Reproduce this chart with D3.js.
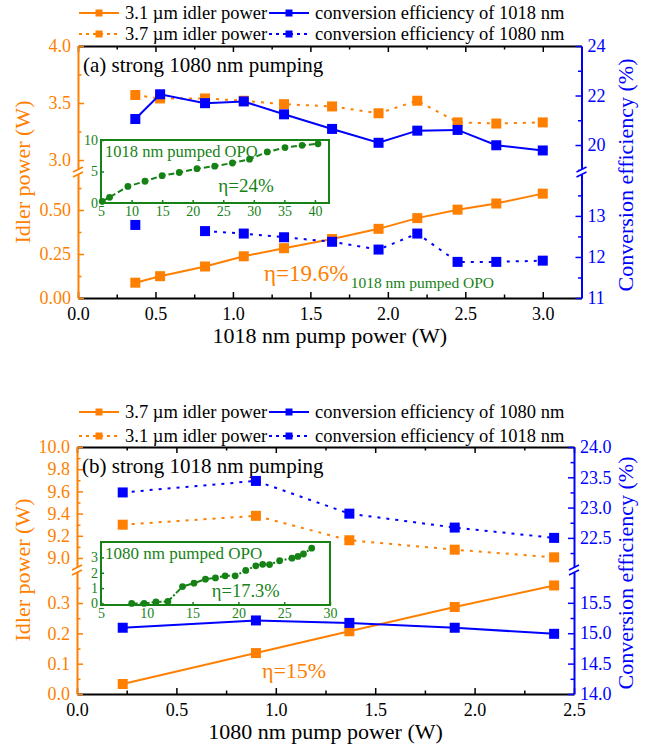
<!DOCTYPE html>
<html>
<head>
<meta charset="utf-8">
<script src="https://cdn.jsdelivr.net/npm/d3@7"></script>
</head>
<body style="margin:0">
<svg id="chart" width="653" height="749"></svg>
<script>
var ORANGE = "#ff7f00", BLUE = "#0000ff", GREEN = "#168216";

// panel (a): strong 1080 nm pumping, x = 1018 nm pump power (W)
var pumpA = [0.37, 0.53, 0.82, 1.07, 1.33, 1.64, 1.94, 2.19, 2.45, 2.70, 3.00];
var idler31A = [0.087, 0.124, 0.179, 0.237, 0.283, 0.335, 0.393, 0.454, 0.502, 0.537, 0.593];
var idler37A = [3.57, 3.54, 3.54, 3.52, 3.49, 3.47, 3.41, 3.52, 3.33, 3.32, 3.33];
var eff1018A = [21.05, 22.05, 21.69, 21.76, 21.24, 20.65, 20.09, 20.58, 20.61, 19.99, 19.78];
var eff1080A = [12.78, null, 12.63, 12.57, 12.48, 12.37, 12.18, 12.57, 11.88, 11.88, 11.91];

// inset (a): 1018 nm pumped OPO
var insetPumpA = [5.2, 6.4, 9.4, 12.2, 15.0, 17.8, 20.7, 23.6, 26.5, 29.3, 32.2, 35.1, 37.9, 40.5];
var insetIdlerA = [0.26, 0.9, 2.63, 3.45, 4.34, 4.84, 5.45, 5.85, 6.35, 6.95, 8.1, 8.8, 9.15, 9.4];

// panel (b): strong 1018 nm pumping, x = 1080 nm pump power (W)
var pumpB = [0.23, 0.90, 1.37, 1.90, 2.40];
var idler37B = [0.033, 0.135, 0.207, 0.287, 0.358];
var idler31B = [9.30, 9.38, 9.16, 9.075, 9.006];
var eff1080B = [15.09, 15.21, 15.17, 15.09, 14.99];
var eff1018B = [23.25, 23.44, 22.90, 22.67, 22.50];

// inset (b): 1080 nm pumped OPO
var insetPumpB = [8.35, 9.7, 11.0, 12.3, 13.9, 15.15, 16.4, 17.5, 18.55, 19.65, 20.8, 21.9, 22.65, 23.4, 24.5, 25.85, 26.5, 27.1, 28.0];
var insetIdlerB = [0, 0, 0.1, 0.13, 1.1, 1.32, 1.58, 1.66, 1.8, 1.8, 2.15, 2.45, 2.55, 2.53, 2.78, 2.95, 3.06, 3.22, 3.6];

// tick labels
var xTicksA = [0, 0.5, 1, 1.5, 2, 2.5, 3], xMinorA = [0.25, 0.75, 1.25, 1.75, 2.25, 2.75];
var leftLowTicksA = [0, 0.25, 0.5], leftLowMinorA = [0.125, 0.375, 0.625];
var leftHighTicksA = [3.0, 3.5, 4.0], leftHighMinorA = [3.25, 3.75];
var rightLowTicksA = [11, 12, 13], rightLowMinorA = [11.5, 12.5, 13.5];
var rightHighTicksA = [20, 22, 24], rightHighMinorA = [19, 21, 23];
var insetXTicksA = [5, 10, 15, 20, 25, 30, 35, 40], insetYTicksA = [0, 5, 10];

var xTicksB = [0, 0.5, 1, 1.5, 2, 2.5], xMinorB = [0.25, 0.75, 1.25, 1.75, 2.25];
var leftLowTicksB = [0, 0.1, 0.2, 0.3], leftLowMinorB = [0.05, 0.15, 0.25, 0.35];
var leftHighTicksB = [9.0, 9.2, 9.4, 9.6, 9.8, 10.0], leftHighMinorB = [9.1, 9.3, 9.5, 9.7, 9.9];
var rightLowTicksB = [14.0, 14.5, 15.0, 15.5], rightLowMinorB = [14.25, 14.75, 15.25, 15.75];
var rightHighTicksB = [22.5, 23.0, 23.5, 24.0], rightHighMinorB = [22.25, 22.75, 23.25, 23.75];
var insetXTicksB = [5, 10, 15, 20, 25, 30], insetYTicksB = [0, 1, 2, 3];

var FONT = "Liberation Serif";
var svg = d3.select("#chart");

function styleAxis(sel, color, size) {
	sel.attr("font-family", FONT).attr("font-size", size || 18);
	sel.select(".domain").attr("stroke", color).attr("stroke-width", 2);
	sel.selectAll(".tick line").attr("stroke", color).attr("stroke-width", 1.5);
	sel.selectAll(".tick text").attr("fill", color);
}

// one y segment (major + minor ticks) of a broken axis
function yAxisSegment(g, side, x, scale, ticks, minor, fmt, color) {
	var make = side == "left" ? d3.axisLeft : d3.axisRight;
	g.append("g").attr("transform", "translate(" + x + ",0)")
		.call(make(scale).tickValues(ticks).tickSize(-6).tickSizeOuter(0)
			.tickPadding(side == "left" ? 7 : 6).tickFormat(d3.format(fmt)))
		.call(styleAxis, color);
	g.append("g").attr("transform", "translate(" + x + ",0)")
		.call(make(scale).tickValues(minor).tickSize(-3.5).tickSizeOuter(0).tickFormat(""))
		.call(styleAxis, color)
		.select(".domain").remove();
}

function breakMark(g, x, y, color) {
	g.append("rect").attr("x", x - 3).attr("y", y - 2.5).attr("width", 6).attr("height", 5).attr("fill", "#fff");
	[-2.5, 2.5].forEach(function(k) {
		g.append("line")
			.attr("x1", x - 5).attr("y1", y + k + 2.5)
			.attr("x2", x + 5).attr("y2", y + k - 2.5)
			.attr("stroke", color).attr("stroke-width", 1.6);
	});
}

function drawSeries(g, xs, ys, xScale, yScale, color, dotted) {
	var pts = xs.map(function(x, i) { return {x: x, y: ys[i]}; });
	var line = d3.line()
		.defined(function(d) { return d.y != null; })
		.x(function(d) { return xScale(d.x); })
		.y(function(d) { return yScale(d.y); });
	g.append("path").datum(pts)
		.attr("d", line)
		.attr("fill", "none")
		.attr("stroke", color)
		.attr("stroke-width", 2)
		.attr("stroke-dasharray", dotted ? "3,6" : null);
	g.selectAll(null)
		.data(pts.filter(function(d) { return d.y != null; }))
		.enter().append("rect")
		.attr("x", function(d) { return xScale(d.x) - 5; })
		.attr("y", function(d) { return yScale(d.y) - 5; })
		.attr("width", 10).attr("height", 10)
		.attr("fill", color);
}

function drawLegend(g, rows, items) {
	var colX = [79, 269];
	items.forEach(function(it) {
		var x0 = colX[it.col], y = rows[it.row];
		g.append("line")
			.attr("x1", x0).attr("x2", x0 + 40).attr("y1", y).attr("y2", y)
			.attr("stroke", it.color).attr("stroke-width", 2)
			.attr("stroke-dasharray", it.dotted ? "3,4" : null);
		g.append("rect").attr("x", x0 + 16.5).attr("y", y - 3.5).attr("width", 7).attr("height", 7)
			.attr("fill", it.color);
		g.append("text").attr("x", x0 + 46).attr("y", y).attr("dy", "0.32em")
			.attr("font-size", 18.5).attr("fill", "#000").text(it.label);
	});
}

function drawInset(g, p) {
	var x = p.x, y = p.y;
	g.append("rect")
		.attr("x", x.range()[0]).attr("y", y.range()[1])
		.attr("width", x.range()[1] - x.range()[0]).attr("height", y.range()[0] - y.range()[1])
		.attr("fill", "#fff").attr("stroke", GREEN).attr("stroke-width", 2);
	g.append("g").attr("transform", "translate(0," + y.range()[0] + ")")
		.call(d3.axisBottom(x).tickValues(p.xTicks).tickSize(-3).tickSizeOuter(0).tickPadding(3).tickFormat(d3.format("d")))
		.call(styleAxis, GREEN, 14)
		.select(".domain").remove();
	g.append("g").attr("transform", "translate(" + x.range()[0] + ",0)")
		.call(d3.axisLeft(y).tickValues(p.yTicks).tickSize(-3).tickSizeOuter(0).tickPadding(3).tickFormat(d3.format("d")))
		.call(styleAxis, GREEN, 14)
		.select(".domain").remove();
	var pts = p.xs.map(function(v, i) { return [v, p.ys[i]]; });
	g.append("path").datum(pts)
		.attr("d", d3.line().x(function(d) { return x(d[0]); }).y(function(d) { return y(d[1]); }))
		.attr("fill", "none").attr("stroke", GREEN).attr("stroke-width", 2)
		.attr("stroke-dasharray", p.dash);
	g.selectAll(null).data(pts).enter().append("circle")
		.attr("cx", function(d) { return x(d[0]); })
		.attr("cy", function(d) { return y(d[1]); })
		.attr("r", 3.4).attr("fill", GREEN);
	g.append("text").attr("x", x.range()[0] + 4).attr("y", y.range()[1] + 17)
		.attr("font-size", p.titleSize).attr("fill", GREEN).text(p.title);
	g.append("text").attr("x", x(p.etaAt[0])).attr("y", y(p.etaAt[1]))
		.attr("font-size", p.etaSize).attr("fill", GREEN).text(p.eta);
}

function drawPanel(p) {
	var g = svg.append("g");
	var x0 = p.x.range()[0], x1 = p.x.range()[1];

	drawLegend(g, p.legendRows, p.legend);

	// top frame line with inner ticks
	g.append("g").attr("transform", "translate(0," + p.top + ")")
		.call(d3.axisTop(p.x).tickValues(p.xTicks).tickSize(-6).tickSizeOuter(0).tickFormat(""))
		.call(styleAxis, "#000");
	g.append("g").attr("transform", "translate(0," + p.top + ")")
		.call(d3.axisTop(p.x).tickValues(p.xMinor).tickSize(-3.5).tickSizeOuter(0).tickFormat(""))
		.call(styleAxis, "#000").select(".domain").remove();

	// bottom axis
	g.append("g").attr("transform", "translate(0," + p.bottom + ")")
		.call(d3.axisBottom(p.x).tickValues(p.xTicks).tickSize(-6).tickSizeOuter(0)
			.tickPadding(9).tickFormat(d3.format(".1f")))
		.call(styleAxis, "#000");
	g.append("g").attr("transform", "translate(0," + p.bottom + ")")
		.call(d3.axisBottom(p.x).tickValues(p.xMinor).tickSize(-3.5).tickSizeOuter(0).tickFormat(""))
		.call(styleAxis, "#000").select(".domain").remove();

	// broken left and right axes
	yAxisSegment(g, "left", x0, p.leftLow, p.leftLowTicks, p.leftLowMinor, p.leftLowFmt, ORANGE);
	yAxisSegment(g, "left", x0, p.leftHigh, p.leftHighTicks, p.leftHighMinor, p.leftHighFmt, ORANGE);
	yAxisSegment(g, "right", x1, p.rightLow, p.rightLowTicks, p.rightLowMinor, p.rightFmt, BLUE);
	yAxisSegment(g, "right", x1, p.rightHigh, p.rightHighTicks, p.rightHighMinor, p.rightFmt, BLUE);
	breakMark(g, x0, p.brk, ORANGE);
	breakMark(g, x1, p.brk, BLUE);

	// axis titles
	g.append("text").attr("x", (x0 + x1) / 2).attr("y", p.bottom + 45)
		.attr("text-anchor", "middle").attr("font-size", 22).text(p.xTitle);
	g.append("text").attr("transform", "translate(30," + p.brk + ") rotate(-90)")
		.attr("text-anchor", "middle").attr("font-size", 22).attr("fill", ORANGE)
		.text("Idler power (W)");
	g.append("text").attr("transform", "translate(633," + (p.brk + 3) + ") rotate(-90)")
		.attr("text-anchor", "middle").attr("font-size", 22).attr("fill", BLUE)
		.text("Conversion efficiency (%)");

	// panel title
	g.append("text").attr("x", x0 + 5).attr("y", p.top + 26)
		.attr("font-size", 21).text(p.title);

	drawInset(g, p.inset);

	p.series.forEach(function(s) {
		drawSeries(g, p.xs, s.ys, p.x, s.scale, s.color, s.dotted);
	});

	p.notes.forEach(function(n) {
		g.append("text").attr("x", p.x(n.at[0])).attr("y", n.scale(n.at[1]))
			.attr("font-size", n.size).attr("fill", n.color).text(n.text);
	});
}

// ---- panel (a)
var leftLowA = d3.scaleLinear().domain([0, 0.716]).range([298, 172]);
var leftHighA = d3.scaleLinear().domain([2.895, 4.0]).range([172, 46]);
var rightLowA = d3.scaleLinear().domain([11, 14.07]).range([298, 172]);
var rightHighA = d3.scaleLinear().domain([18.91, 24]).range([172, 46]);

drawPanel({
	top: 46, bottom: 298, brk: 172,
	x: d3.scaleLinear().domain([0, 3.25]).range([78, 581.5]),
	xTicks: xTicksA, xMinor: xMinorA,
	leftLow: leftLowA, leftLowTicks: leftLowTicksA, leftLowMinor: leftLowMinorA, leftLowFmt: ".2f",
	leftHigh: leftHighA, leftHighTicks: leftHighTicksA, leftHighMinor: leftHighMinorA, leftHighFmt: ".1f",
	rightLow: rightLowA, rightLowTicks: rightLowTicksA, rightLowMinor: rightLowMinorA,
	rightHigh: rightHighA, rightHighTicks: rightHighTicksA, rightHighMinor: rightHighMinorA,
	rightFmt: "d",
	xTitle: "1018 nm pump power (W)",
	title: "(a) strong 1080 nm pumping",
	legendRows: [13, 34],
	legend: [
		{label: "3.1 \u00b5m idler power", color: ORANGE, dotted: false, col: 0, row: 0},
		{label: "conversion efficiency of 1018 nm", color: BLUE, dotted: false, col: 1, row: 0},
		{label: "3.7 \u00b5m idler power", color: ORANGE, dotted: true, col: 0, row: 1},
		{label: "conversion efficiency of 1080 nm", color: BLUE, dotted: true, col: 1, row: 1}
	],
	xs: pumpA,
	series: [
		{ys: idler37A, scale: leftHighA, color: ORANGE, dotted: true},
		{ys: idler31A, scale: leftLowA, color: ORANGE, dotted: false},
		{ys: eff1018A, scale: rightHighA, color: BLUE, dotted: false},
		{ys: eff1080A, scale: rightLowA, color: BLUE, dotted: true}
	],
	notes: [
		{text: "\u03b7=19.6%", at: [1.2, 0.097], scale: leftLowA, size: 23, color: ORANGE},
		{text: "1018 nm pumped OPO", at: [1.76, 0.057], scale: leftLowA, size: 15.5, color: GREEN}
	],
	inset: {
		x: d3.scaleLinear().domain([5, 42.3]).range([101, 329]),
		y: d3.scaleLinear().domain([0, 10]).range([203, 140]),
		xTicks: insetXTicksA, yTicks: insetYTicksA,
		xs: insetPumpA, ys: insetIdlerA, dash: "6,3",
		title: "1018 nm pumped OPO", titleSize: 16.5,
		eta: "\u03b7=24%", etaAt: [24.2, 1.8], etaSize: 19
	}
});

// ---- panel (b)
var leftLowB = d3.scaleLinear().domain([0, 0.409]).range([694, 570]);
var leftHighB = d3.scaleLinear().domain([8.892, 10]).range([570, 447]);
var rightLowB = d3.scaleLinear().domain([14, 16.04]).range([694, 570]);
var rightHighB = d3.scaleLinear().domain([21.97, 24]).range([570, 447]);

drawPanel({
	top: 447, bottom: 694, brk: 570,
	x: d3.scaleLinear().domain([0, 2.5]).range([77, 574]),
	xTicks: xTicksB, xMinor: xMinorB,
	leftLow: leftLowB, leftLowTicks: leftLowTicksB, leftLowMinor: leftLowMinorB, leftLowFmt: ".1f",
	leftHigh: leftHighB, leftHighTicks: leftHighTicksB, leftHighMinor: leftHighMinorB, leftHighFmt: ".1f",
	rightLow: rightLowB, rightLowTicks: rightLowTicksB, rightLowMinor: rightLowMinorB,
	rightHigh: rightHighB, rightHighTicks: rightHighTicksB, rightHighMinor: rightHighMinorB,
	rightFmt: ".1f",
	xTitle: "1080 nm pump power (W)",
	title: "(b) strong 1018 nm pumping",
	legendRows: [412, 436],
	legend: [
		{label: "3.7 \u00b5m idler power", color: ORANGE, dotted: false, col: 0, row: 0},
		{label: "conversion efficiency of 1080 nm", color: BLUE, dotted: false, col: 1, row: 0},
		{label: "3.1 \u00b5m idler power", color: ORANGE, dotted: true, col: 0, row: 1},
		{label: "conversion efficiency of 1018 nm", color: BLUE, dotted: true, col: 1, row: 1}
	],
	xs: pumpB,
	series: [
		{ys: idler31B, scale: leftHighB, color: ORANGE, dotted: true},
		{ys: idler37B, scale: leftLowB, color: ORANGE, dotted: false},
		{ys: eff1018B, scale: rightHighB, color: BLUE, dotted: true},
		{ys: eff1080B, scale: rightLowB, color: BLUE, dotted: false}
	],
	notes: [
		{text: "\u03b7=15%", at: [0.93, 0.053], scale: leftLowB, size: 22, color: ORANGE}
	],
	inset: {
		x: d3.scaleLinear().domain([5, 30]).range([101, 330]),
		y: d3.scaleLinear().domain([-0.1, 4.0]).range([605, 542]),
		xTicks: insetXTicksB, yTicks: insetYTicksB,
		xs: insetPumpB, ys: insetIdlerB, dash: "6,2,2,2",
		title: "1080 nm pumped OPO", titleSize: 17,
		eta: "\u03b7=17.3%", etaAt: [17.1, 0.4], etaSize: 18.5
	}
});

svg.selectAll("text").attr("font-family", FONT).style("font-family", FONT);
</script>
</body>
</html>
